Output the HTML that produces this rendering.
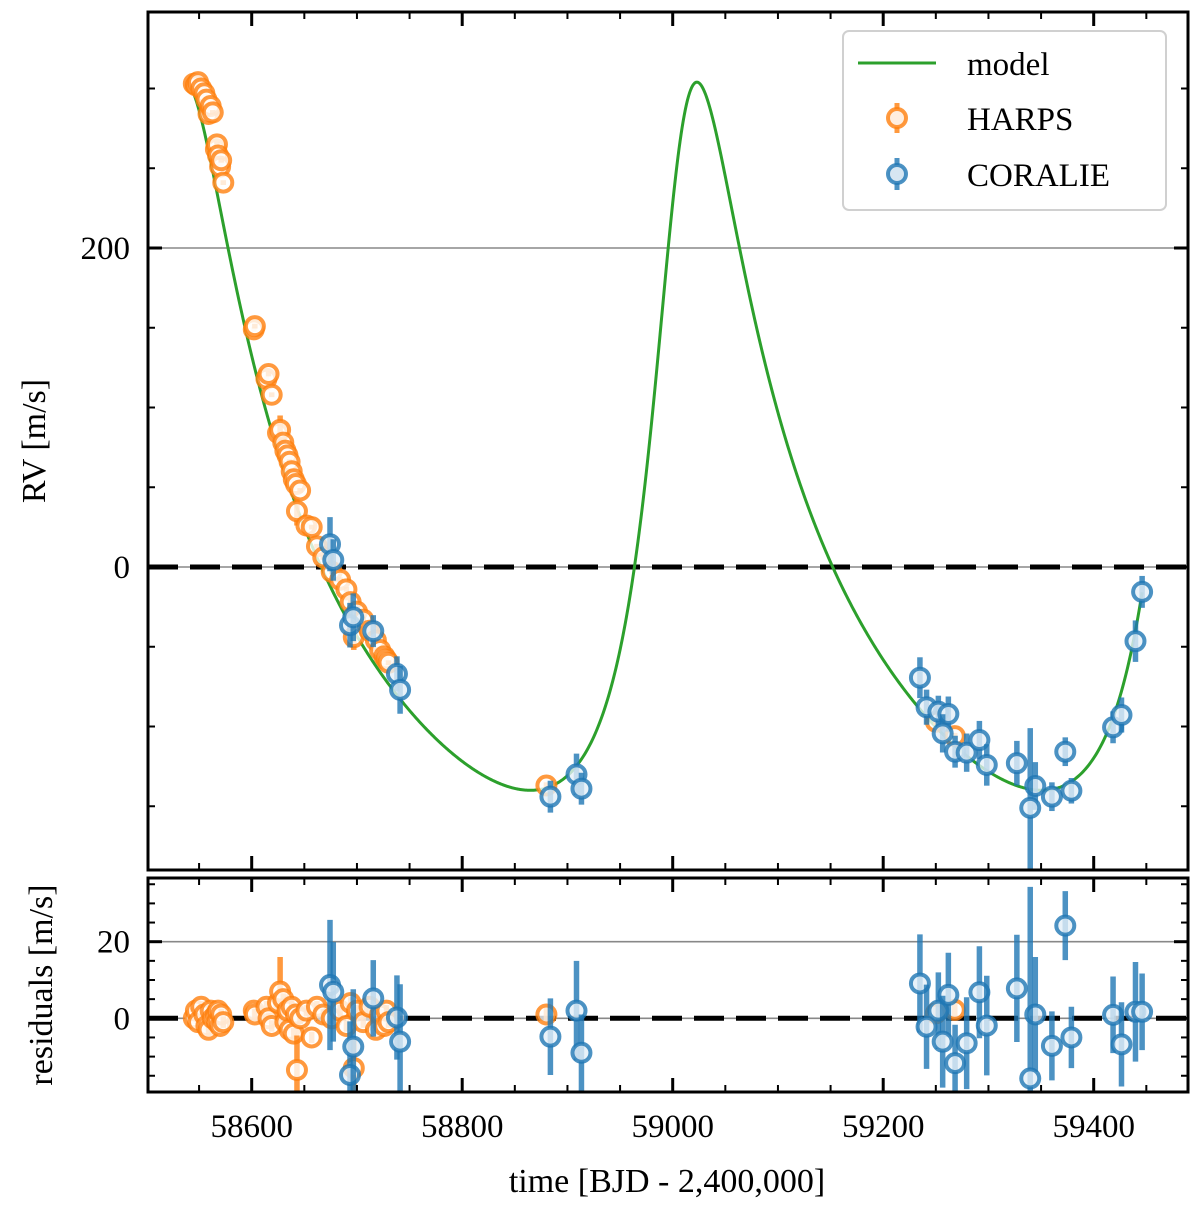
<!DOCTYPE html>
<html><head><meta charset="utf-8">
<style>
html,body{margin:0;padding:0;background:#fff;}
svg{display:block;font-family:"Liberation Serif",serif;}
</style></head>
<body>
<svg id="chart" width="1200" height="1211" viewBox="0 0 1200 1211" xmlns="http://www.w3.org/2000/svg">
<defs>
<clipPath id="clipMain"><rect x="148" y="12" width="1040" height="858"/></clipPath>
<clipPath id="clipRes"><rect x="148" y="878" width="1040" height="214"/></clipPath>
</defs>
<g id="gridMain"></g>
<g id="gridRes"></g>
<g id="modelG" clip-path="url(#clipMain)"></g>
<g id="mainData" clip-path="url(#clipMain)"></g>
<g id="resData" clip-path="url(#clipRes)"></g>
<g id="axesG"></g>
<text x="0" y="0" transform="translate(45,441) rotate(-90)" text-anchor="middle" font-size="34">RV [m/s]</text>
<text x="0" y="0" transform="translate(52,985) rotate(-90)" text-anchor="middle" font-size="34">residuals [m/s]</text>
<text x="667" y="1192" text-anchor="middle" font-size="34">time [BJD - 2,400,000]</text>
<g>
<rect x="843" y="31" width="323" height="179" rx="6" fill="#fff" fill-opacity="0.85" stroke="#d0d0d0" stroke-width="2"/>
<line x1="858" y1="63" x2="936" y2="63" stroke="#2ca02c" stroke-width="3"/>
<text x="967" y="75" font-size="33">model</text>
<line x1="897" y1="103" x2="897" y2="133" stroke="#ff7f0e" stroke-width="5" stroke-opacity="0.8"/>
<circle cx="897" cy="118" r="9" fill="#ffeedf" stroke="#ff7f0e" stroke-width="4" stroke-opacity="0.8"/>
<text x="967" y="130" font-size="33">HARPS</text>
<line x1="897" y1="158" x2="897" y2="190" stroke="#1f77b4" stroke-width="5" stroke-opacity="0.8"/>
<circle cx="897" cy="174" r="9" fill="#d6e6f2" stroke="#1f77b4" stroke-width="4" stroke-opacity="0.8"/>
<text x="967" y="186" font-size="33">CORALIE</text>
</g>
</svg>
<script>
// ---- data ----
const harpsT = [58545,58547,58549,58552,58555,58557,58559,58561,58563,58566,58567,58568,58570,58571,58573,
58602,58603,58614,58616,58619,58625,58627,58630,58632,58634,58636,58638,58640,58642,58643,58646,58652,58657,58662,58668,58676,58684,58690,58694,58697,58700,58706,58712,58718,58722,58726,58728,58730,58880,59250,59268];
const harpsRV = [303,302,304,300,297,293,284,289,285,262,265,258,251,255,241,
149,151,118,121,108,84,86,78,73,70,66,60,55,52,35,48,26,25,13,6,-3,-8,-14,-22,-44,-28,-33,-40,-46,-52,-56,-58,-60,-137,-97,-106];
const harpsErr = [1.5,1.5,1.5,1.5,1.5,1.5,1.5,1.5,1.5,1.5,1.5,1.5,1.5,1.5,1.5,
1.5,1.5,1.5,1.5,1.5,1.5,9,1.5,1.5,1.5,1.5,1.5,1.5,1.5,9,1.5,1.5,1.5,1.5,1.5,1.5,1.5,1.5,1.5,8,1.5,1.5,1.5,1.5,1.5,1.5,1.5,1.5,2,2,2];
const harpsRes = [0,2,-1,3,1,-2,-3,2,0,1,-1,2,-2,1,-1,
2,1,3,0,-2,4,7,5,-1,2,-3,3,-4,1,-13.5,0,2,-5,3,1,0,2,-2,4,-13,2,-1,3,-3,1,-2,2,-1,1,1.3,2.2];
const coraT = [58674.4,58677.5,58693.4,58696.5,58715.5,58738,58741,58883.8,58908.6,58913.3,
59234.9,59241.2,59252.4,59261.9,59256.5,59268.3,59279.3,59291.4,59298.4,59327,59344.5,59339.7,59360.3,59378.8,59373,59418.4,59426.4,59439.7,59446];
const coraRV = [14.3,4.4,-36.5,-31.5,-40.2,-67,-77,-144,-130,-139,
-69.4,-87.9,-90.7,-92.2,-104.3,-115.8,-116.4,-108.5,-124.1,-123,-137.3,-151,-144,-140.3,-115.8,-100.5,-92.8,-46.5,-15.6];
const coraErr = [17,13,14,15,10,11,15,10,13,10,
12.8,11,10,11,12,10,12,12,13,14,15,50,9,8,9,10,11,13,10];
const coraRes = [8.7,6.9,-14.8,-7.4,5.2,0.2,-6.1,-4.8,2,-9,
9.1,-2.2,2,6.1,-6.1,-11.7,-6.5,6.8,-1.9,7.8,1,-15.7,-7.2,-5,24.2,0.9,-6.8,1.7,1.7];
// model parameters (Keplerian)
const modelP = 486, modelK = 222, modelE = 0.45, modelOmegaDeg = -35, modelTpeak = 59023, modelPeak = 304;
const modelStart = 58545, modelEnd = 59446;

// ---- axes ----
const NS = "http://www.w3.org/2000/svg";
const X0 = 148, X1 = 1188;
const xs = t => 251.7 + (t - 58600) * 1.0525;
const ym = v => 567 - v * 1.595;
const yr = v => 1018.3 - v * 3.83;
function mk(tag, attrs, parent){const e=document.createElementNS(NS,tag);for(const k in attrs)e.setAttribute(k,attrs[k]);parent.appendChild(e);return e;}

const gridMain=document.getElementById('gridMain');
const gridRes=document.getElementById('gridRes');
let l=mk('line',{x1:X0,x2:X1,y1:ym(200),y2:ym(200),stroke:'#888','stroke-width':1.6},gridMain);


l=mk('line',{x1:X0,x2:X1,y1:ym(0),y2:ym(0),stroke:'#888','stroke-width':1.6},gridMain);


l=mk('line',{x1:X0,x2:X1,y1:ym(0),y2:ym(0),stroke:'#000','stroke-width':5,'stroke-dasharray':'30 12'},gridMain);


l=mk('line',{x1:X0,x2:X1,y1:yr(20),y2:yr(20),stroke:'#888','stroke-width':1.6},gridRes);


l=mk('line',{x1:X0,x2:X1,y1:yr(0),y2:yr(0),stroke:'#888','stroke-width':1.6},gridRes);


l=mk('line',{x1:X0,x2:X1,y1:yr(0),y2:yr(0),stroke:'#000','stroke-width':5,'stroke-dasharray':'30 12'},gridRes);



// ---- model ----
function kepler(t){
  const e=modelE, w=modelOmegaDeg*Math.PI/180;
  const nuPk=-w;
  const Epk=2*Math.atan(Math.sqrt((1-e)/(1+e))*Math.tan(nuPk/2));
  const Mpk=Epk-e*Math.sin(Epk);
  const Tp=modelTpeak-Mpk*modelP/(2*Math.PI);
  let M=2*Math.PI*(t-Tp)/modelP;
  M=((M%(2*Math.PI))+3*Math.PI)%(2*Math.PI)-Math.PI;
  let E=M;
  for(let i=0;i<60;i++){E=E-(E-e*Math.sin(E)-M)/(1-e*Math.cos(E));}
  const nu=2*Math.atan2(Math.sqrt(1+e)*Math.sin(E/2),Math.sqrt(1-e)*Math.cos(E/2));
  const gamma=modelPeak-modelK*(1+e*Math.cos(w));
  return modelK*(Math.cos(nu+w)+e*Math.cos(w))+gamma;
}
let d='';
for(let t=modelStart;t<=modelEnd;t+=1){d+=(t===modelStart?'M':'L')+xs(t).toFixed(2)+' '+ym(kepler(t)).toFixed(2);}
const mp=mk('path',{d:d,fill:'none',stroke:'#2ca02c','stroke-width':3},document.getElementById('modelG'));



// ---- points ----
function drawPt(parent,x,y,elo,ehi,color,fill,name){
  const g=mk('g',{},parent);
  
  
  mk('line',{x1:x,x2:x,y1:elo,y2:ehi,stroke:color,'stroke-width':5.5,'stroke-opacity':0.8},g);
  mk('circle',{cx:x,cy:y,r:9,fill:fill,'fill-opacity':0.8,stroke:color,'stroke-width':4,'stroke-opacity':0.8},g);
}
const mainData=document.getElementById('mainData');
const resData=document.getElementById('resData');
for(let i=0;i<harpsT.length;i++){
  drawPt(mainData,xs(harpsT[i]),ym(harpsRV[i]),ym(harpsRV[i]-harpsErr[i]),ym(harpsRV[i]+harpsErr[i]),'#ff7f0e','#fff','harps-point');
  drawPt(resData,xs(harpsT[i]),yr(harpsRes[i]),yr(harpsRes[i]-harpsErr[i]),yr(harpsRes[i]+harpsErr[i]),'#ff7f0e','#fff','harps-residual');
}
for(let i=0;i<coraT.length;i++){
  drawPt(mainData,xs(coraT[i]),ym(coraRV[i]),ym(coraRV[i]-coraErr[i]),ym(coraRV[i]+coraErr[i]),'#1f77b4','#e4eff7','coralie-point');
  drawPt(resData,xs(coraT[i]),yr(coraRes[i]),yr(coraRes[i]-coraErr[i]),yr(coraRes[i]+coraErr[i]),'#1f77b4','#e4eff7','coralie-residual');
}

// ---- axes frames & ticks ----
const axesG=document.getElementById('axesG');
function frame(y0,y1,name){
  const r=mk('rect',{x:X0,y:y0,width:X1-X0,height:y1-y0,fill:'none',stroke:'#000','stroke-width':3},axesG);
  
  
}
frame(12,870,'main-frame');
frame(878,1092,'residual-frame');
function tick(x1,y1,x2,y2,w){mk('line',{x1:x1,y1:y1,x2:x2,y2:y2,stroke:'#000','stroke-width':w},axesG);}
for(let t=58500;t<=59488;t+=50){
  const x=xs(t); if(x<X0+1||x>X1-1) continue;
  const maj=(t%200===0); const L=maj?14:7; const w=maj?3:2;
  tick(x,12,x,12+L,w); tick(x,870,x,870-L,w);
  tick(x,878,x,878+L,w); tick(x,1092,x,1092-L,w);
}
const xTickLabels=['58600','58800','59000','59200','59400'];
xTickLabels.forEach(s=>{
  const t=mk('text',{x:xs(+s),y:1137,'text-anchor':'middle','font-size':33},axesG);
  t.textContent=s;
  
  
});
for(let v=-150;v<=350;v+=50){
  const y=ym(v); if(y<13||y>869) continue;
  const maj=(v%200===0); const L=maj?14:7; const w=maj?3:2;
  tick(X0,y,X0+L,y,w); tick(X1,y,X1-L,y,w);
}
const yTickLabels=['0','200'];
yTickLabels.forEach(s=>{
  const t=mk('text',{x:130,y:ym(+s)+11,'text-anchor':'end','font-size':33},axesG);
  t.textContent=s;
  
  
});
for(let v=-15;v<=35;v+=5){
  const y=yr(v); if(y<879||y>1091) continue;
  const maj=(v%20===0); const L=maj?14:7; const w=maj?3:2;
  tick(X0,y,X0+L,y,w); tick(X1,y,X1-L,y,w);
}
const resTickLabels=['0','20'];
resTickLabels.forEach(s=>{
  const t=mk('text',{x:130,y:yr(+s)+11,'text-anchor':'end','font-size':33},axesG);
  t.textContent=s;
  
  
});
</script>
</body></html>
